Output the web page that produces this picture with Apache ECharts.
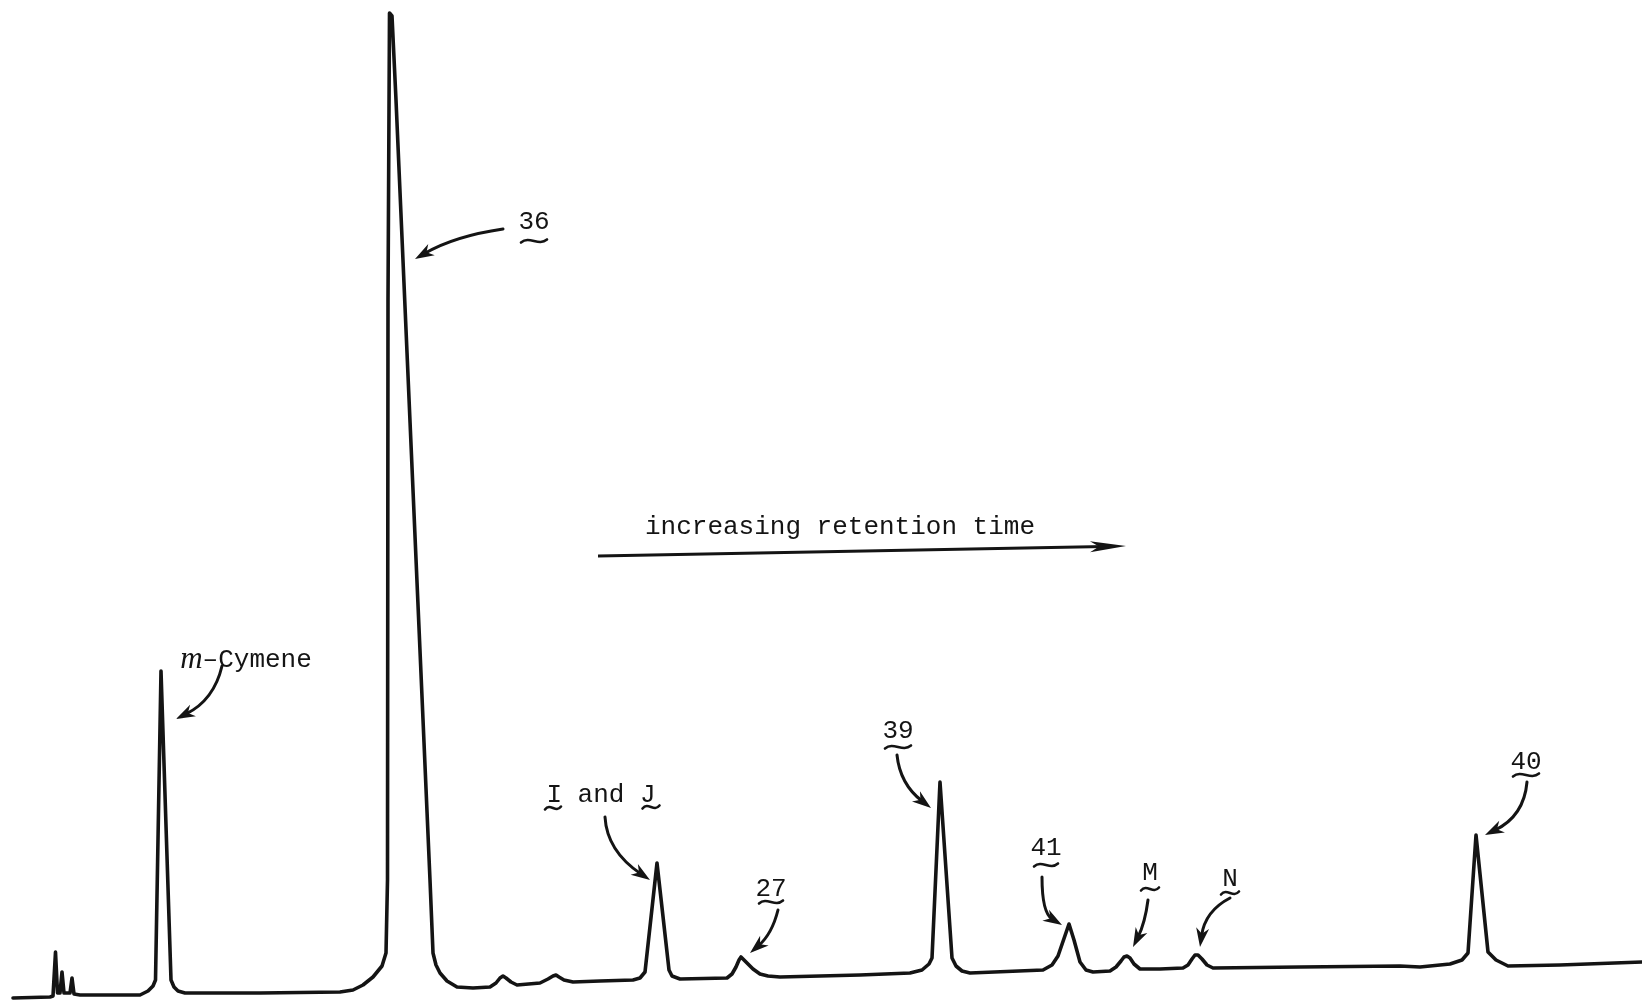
<!DOCTYPE html>
<html><head><meta charset="utf-8">
<script src="https://cdn.jsdelivr.net/npm/echarts@6/dist/echarts.min.js"></script>
<style>html,body{margin:0;padding:0;background:#fff}#c{width:1642px;height:1000px}</style>
</head><body><div id="c"></div>
<script>
// Chromatogram trace (retention position, detector response)
const traceX = [13,50,53,55.5,57.5,60,62,64,70,72,
  74,80,140,148,153,155.5,161,171,174,178,
  185,260,340,353,363,373,382,386,387.5,388,
  389.5,392,396,430,433,436,440,447,457,473,
  490,496,500,503,506,511,517,540,548,553,
  556,559,564,573,600,633,640,645,657,669,
  672,680,727,732,736,739,741,743,747,753,
  760,768,780,860,910,922,929,932,940,952,
  956,962,970,1043,1052,1058,1069,1074,1080,1086,
  1093,1110,1116,1121,1124,1127,1130,1134,1140,1160,
  1183,1188,1192,1195,1198,1202,1207,1213,1300,1400,
  1420,1450,1462,1468,1476,1488,1496,1508,1560,1642];
const traceY = [2,3,4,48,7,7,28,7,7,22,
  6,5,5,9,14,20,329,20,13,9,
  7,7,8,10,15,23,34,47,120,700,
  987,984,900,120,47,35,27,19,13,12,
  13,17,22,24,22,18,15,17,21,24,
  25,23,20,18,19,20,22,28,137,30,
  24,21,22,26,33,40,43,42,37,31,
  26,24,23,25,27,30,36,42,218,42,
  34,29,27,30,35,44,76,60,38,30,
  28,29,33,39,43,44,42,36,31,31,
  32,35,41,45,45,41,35,32,33,34,
  33,36,40,47,165,48,40,34,35,38];

// Peak labels
const labelText = ['{i|m}–Cymene','36','I and J','27','39','41','M','N','40','increasing retention time'];
const labelX = [246,534,601,771,898,1046,1150,1230,1526,840];
const labelY = [340,778,205,111,269,152,127,121,238,473];

// Wavy underlines (centre x, centre y, width)
const tildeX = [534,553,651,771,898,1046,1150,1230,1526];
const tildeY = [759,192,193,98,253,135,111,107,225];
const tildeW = [26,16,17,24,26,24,18,18,26];

// Curved pointer arrows: start, control, end
const arrowSX = [222,503,605,778,897,1042,1148,1230,1527];
const arrowSY = [334,771,183,90,245,123,100,102,218];
const arrowCX = [214,455,607,772,900,1042,1145,1205,1524];
const arrowCY = [300,764,149,66,216,87,77,89,184];
const arrowEX = [176,415,650,750,931,1062,1133,1200,1485];
const arrowEY = [281,741,120,47,192,75,53,53,165];

// Retention-time arrow
const timeArrowX = [598,1126];
const timeArrowY = [444,454];

const chart = echarts.init(document.getElementById('c'), null, {renderer:'canvas'});
const INK = '#141414';
const FONT = '"Liberation Mono", "DejaVu Sans Mono", monospace';

function arrowHead(e, c, L, hw, notch) {
  let dx = e[0]-c[0], dy = e[1]-c[1];
  const len = Math.hypot(dx, dy) || 1;
  const ux = dx/len, uy = dy/len, nx = -uy, ny = ux;
  const bx = e[0]-ux*L, by = e[1]-uy*L;
  const mx = e[0]-ux*L*notch, my = e[1]-uy*L*notch;
  return {
    pts: [[e[0],e[1]],[bx+nx*hw,by+ny*hw],[mx,my],[bx-nx*hw,by-ny*hw]],
    lineEnd: [e[0]-ux*L*0.6, e[1]-uy*L*0.6]
  };
}

chart.setOption({
  animation: false,
  backgroundColor: '#ffffff',
  grid: {left:0, right:0, top:0, bottom:0},
  xAxis: {type:'value', min:0, max:1642, show:false},
  yAxis: {type:'value', min:0, max:1000, show:false},
  series: [
    {
      type:'line',
      data: traceX.map((x,i)=>[x, traceY[i]]),
      showSymbol:false, smooth:false,
      lineStyle:{color:INK, width:3.6, join:'round', cap:'round'},
      z: 2
    },
    {
      type:'custom',
      data: arrowSX.map((x,i)=>[x, arrowSY[i], arrowCX[i], arrowCY[i], arrowEX[i], arrowEY[i]]),
      encode:{x:[0,2,4], y:[1,3,5]},
      clip:false,
      renderItem:function(params, api){
        const s = api.coord([api.value(0), api.value(1)]);
        const c = api.coord([api.value(2), api.value(3)]);
        const e = api.coord([api.value(4), api.value(5)]);
        const h = arrowHead(e, c, 19, 6.5, 0.7);
        return {type:'group', children:[
          {type:'bezierCurve', shape:{x1:s[0],y1:s[1],cpx1:c[0],cpy1:c[1],x2:h.lineEnd[0],y2:h.lineEnd[1]},
            style:{stroke:INK, lineWidth:3, fill:'none', lineCap:'round'}},
          {type:'polygon', shape:{points:h.pts}, style:{fill:INK}}
        ]};
      },
      z: 3
    },
    {
      type:'custom',
      data: [[timeArrowX[0], timeArrowY[0], timeArrowX[1], timeArrowY[1]]],
      encode:{x:[0,2], y:[1,3]},
      clip:false,
      renderItem:function(params, api){
        const s = api.coord([api.value(0), api.value(1)]);
        const e = api.coord([api.value(2), api.value(3)]);
        const h = arrowHead(e, s, 36, 5.5, 0.75);
        return {type:'group', children:[
          {type:'line', shape:{x1:s[0],y1:s[1],x2:h.lineEnd[0],y2:h.lineEnd[1]},
            style:{stroke:INK, lineWidth:3}},
          {type:'polygon', shape:{points:h.pts}, style:{fill:INK}}
        ]};
      },
      z: 3
    },
    {
      type:'custom',
      data: tildeX.map((x,i)=>[x, tildeY[i], tildeW[i]]),
      encode:{x:0, y:1},
      clip:false,
      renderItem:function(params, api){
        const cx = api.value(0), cy = api.value(1), w = api.value(2);
        const p0 = api.coord([cx - w/2, cy]);
        const p1 = api.coord([cx + w/2, cy]);
        const W = p1[0]-p0[0];
        return {type:'bezierCurve', shape:{
            x1:p0[0], y1:p0[1]+1.5,
            cpx1:p0[0]+W/3, cpy1:p0[1]-5.5,
            cpx2:p0[0]+2*W/3, cpy2:p0[1]+5.5,
            x2:p1[0], y2:p1[1]-1.5},
          style:{stroke:INK, lineWidth:2.6, fill:'none', lineCap:'round'}};
      },
      z: 3
    },
    {
      type:'custom',
      data: labelX.map((x,i)=>[x, labelY[i], i]),
      encode:{x:0, y:1},
      clip:false,
      renderItem:function(params, api){
        const p = api.coord([api.value(0), api.value(1)]);
        const t = labelText[api.value(2)];
        return {type:'text', style:{
          text: t, x:p[0], y:p[1],
          fill: INK,
          font: '26px ' + FONT,
          align:'center', verticalAlign:'middle',
          textAlign:'center', textVerticalAlign:'middle',
          rich:{
            i:{fontFamily:'"Liberation Serif", serif', fontStyle:'italic', fontSize:31, fill:INK}
          }
        }};
      },
      z: 4
    }
  ]
});
</script>
</body></html>
